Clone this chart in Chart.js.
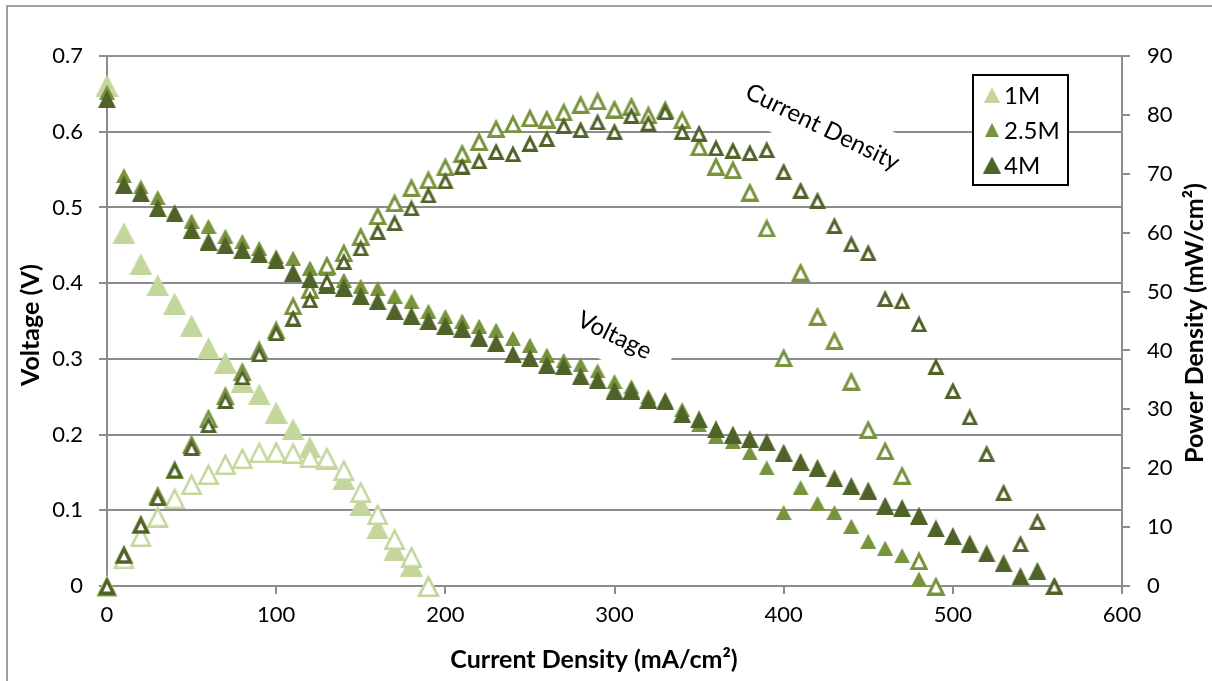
<!DOCTYPE html>
<html>
<head>
<meta charset="utf-8">
<script src="https://cdn.jsdelivr.net/npm/chart.js@4.4.1/dist/chart.umd.min.js"></script>
<style>
html,body{margin:0;padding:0;background:#fff;overflow:hidden}
#wrap{width:1212px;height:681px;position:relative}
</style>
</head>
<body>
<div id="wrap"><canvas id="c" width="1212" height="681"></canvas></div>
<script>
// ---------------- DATA ----------------
const seriesNames = ['1M', '2.5M', '4M'];

const currentDensity1M = [0,10,20,30,40,50,60,70,80,90,100,110,120,130,140,150,160,170,180,190];
const voltage1M = [0.661,0.466,0.425,0.397,0.373,0.344,0.314,0.295,0.270,0.253,0.229,0.207,0.183,0.168,0.141,0.107,0.076,0.047,0.027,0.0];
const power1M = [0,4.7,8.5,11.8,14.9,17.3,19.0,20.7,21.7,22.7,22.8,22.6,21.9,21.8,19.7,16.0,12.2,8.0,5.0,0];

const currentDensity2p5M = [0,10,20,30,40,50,60,70,80,90,100,110,120,130,140,150,160,170,180,190,200,210,220,230,240,250,260,270,280,290,300,310,320,330,340,350,360,370,380,390,400,410,420,430,440,450,460,470,480,490];
const voltage2p5M = [0.652,0.542,0.527,0.513,0.493,0.482,0.475,0.462,0.455,0.446,0.435,0.433,0.420,0.419,0.404,0.396,0.393,0.383,0.376,0.363,0.356,0.350,0.343,0.338,0.327,0.318,0.305,0.298,0.292,0.284,0.270,0.263,0.250,0.245,0.233,0.213,0.198,0.191,0.176,0.156,0.097,0.130,0.109,0.097,0.079,0.059,0.050,0.040,0.009,0.0];
const power2p5M = [0,5.4,10.5,15.4,19.7,24.1,28.5,32.3,36.4,40.1,43.5,47.6,50.4,54.5,56.6,59.4,62.9,65.1,67.7,69.0,71.2,73.5,75.5,77.7,78.5,79.5,79.3,80.5,81.8,82.4,81.0,81.5,80.0,80.9,79.2,74.6,71.3,70.7,66.9,60.8,38.8,53.3,45.8,41.7,34.8,26.6,23.0,18.8,4.3,0];

const currentDensity4M = [0,10,20,30,40,50,60,70,80,90,100,110,120,130,140,150,160,170,180,190,200,210,220,230,240,250,260,270,280,290,300,310,320,330,340,350,360,370,380,390,400,410,420,430,440,450,460,470,480,490,500,510,520,530,540,550,560];
const voltage4M = [0.643,0.530,0.519,0.499,0.492,0.470,0.455,0.450,0.444,0.438,0.430,0.414,0.405,0.398,0.394,0.383,0.376,0.363,0.357,0.350,0.344,0.340,0.328,0.321,0.306,0.301,0.292,0.290,0.277,0.272,0.258,0.258,0.246,0.244,0.227,0.220,0.207,0.200,0.194,0.190,0.176,0.164,0.156,0.142,0.132,0.126,0.106,0.103,0.093,0.076,0.066,0.056,0.043,0.030,0.013,0.020,0.0];
const power4M = [0,5.3,10.4,15.0,19.7,23.5,27.4,31.5,35.5,39.4,43.0,45.5,48.6,51.7,55.1,57.4,60.2,61.7,64.2,66.4,68.8,71.3,72.2,73.8,73.4,75.2,76.0,78.2,77.5,78.8,77.2,79.9,78.6,80.5,77.2,76.9,74.4,74.0,73.6,74.1,70.4,67.2,65.5,61.2,58.1,56.6,48.8,48.4,44.5,37.3,33.2,28.7,22.5,15.9,7.2,11.0,0];

const currentTicks = [0,100,200,300,400,500,600];
const voltageTicks = [0,0.1,0.2,0.3,0.4,0.5,0.6,0.7];
const powerTicks = [0,10,20,30,40,50,60,70,80,90];

const xTitle = 'Current Density (mA/cm\u00B2)';
const yTitle = 'Voltage (V)';
const y2Title = 'Power Density (mW/cm\u00B2)';
const curveLabels = [
  {text: 'Current Density', x: 423, y: 0.606, bx: 433, by: 0.595},
  {text: 'Voltage', x: 300, y: 0.331, bx: 301.5, by: 0.318}
];

// ---------------- STYLE ----------------
const COL1 = '#C3D69B', COL2 = '#77933C', COL3 = '#4F6228';
const FONT = 'Lato';
const GRID = '#8c8c8c';

function tri(w, h, fill, stroke, lw) {
  const c = document.createElement('canvas');
  c.width = w; c.height = h;
  const g = c.getContext('2d');
  const i = lw || 0;
  g.beginPath();
  g.moveTo(w / 2, i * 1.05);
  g.lineTo(w - i * 0.95, h - i / 2);
  g.lineTo(i * 0.95, h - i / 2);
  g.closePath();
  g.fillStyle = fill;
  g.fill();
  if (lw) {
    g.lineWidth = lw; g.strokeStyle = stroke; g.lineJoin = 'miter'; g.stroke();
  }
  return c;
}

const mk = {
  f1: tri(23, 22, COL1), h1: tri(23, 22, '#fff', COL1, 2.5),
  f2: tri(16, 15, COL2), h2: tri(20, 19, '#fff', COL2, 3),
  f3: tri(18, 18, COL3), h3: tri(18, 17, '#fff', COL3, 3)
};
const legendMarkers = [tri(16, 15, COL1), tri(14, 14, COL2), tri(18, 17, COL3)];

function pts(xs, ys) { return xs.map((x, i) => ({x: x, y: ys[i]})); }

function ds(label, xs, ys, img, axis) {
  return {label: label, data: pts(xs, ys), yAxisID: axis, pointStyle: img,
          pointRadius: 9, pointHoverRadius: 9, showLine: false, clip: false,
          backgroundColor: 'transparent', borderColor: 'transparent'};
}

const datasets = [
  ds('4M power', currentDensity4M, power4M, mk.h3, 'y1'),
  ds('4M', currentDensity4M, voltage4M, mk.f3, 'y'),
  ds('2.5M power', currentDensity2p5M, power2p5M, mk.h2, 'y1'),
  ds('2.5M', currentDensity2p5M, voltage2p5M, mk.f2, 'y'),
  ds('1M power', currentDensity1M, power1M, mk.h1, 'y1'),
  ds('1M', currentDensity1M, voltage1M, mk.f1, 'y')
];

const ANG = 26 * Math.PI / 180;

const decor = {
  id: 'decor',
  beforeDraw(chart) {
    const ctx = chart.ctx;
    ctx.save();
    ctx.fillStyle = '#fff';
    ctx.fillRect(0, 0, chart.width, chart.height);
    ctx.strokeStyle = '#a0a0a0';
    ctx.lineWidth = 2;
    ctx.strokeRect(7, 6, chart.width + 20, chart.height + 20);
    ctx.restore();
  },
  beforeDatasetsDraw(chart) {
    const ctx = chart.ctx, sx = chart.scales.x, sy = chart.scales.y;
    const dims = [[200, 54], [110, 40]];
    ctx.save();
    curveLabels.forEach((a, k) => {
      const cx = sx.getPixelForValue(a.bx), cy = sy.getPixelForValue(a.by);
      ctx.save();
      ctx.translate(cx, cy);
      ctx.rotate(ANG);
      ctx.fillStyle = '#fff';
      ctx.fillRect(-dims[k][0] / 2, -dims[k][1] / 2, dims[k][0], dims[k][1]);
      ctx.restore();
    });
    ctx.restore();
  },
  afterDatasetsDraw(chart) {
    const ctx = chart.ctx, sx = chart.scales.x, sy = chart.scales.y;
    ctx.save();
    ctx.fillStyle = '#000';
    ctx.font = '24px ' + FONT;
    ctx.textAlign = 'center';
    ctx.textBaseline = 'middle';
    curveLabels.forEach(a => {
      ctx.save();
      ctx.translate(sx.getPixelForValue(a.x), sy.getPixelForValue(a.y));
      ctx.rotate(ANG);
      ctx.fillText(a.text, 0, 0);
      ctx.restore();
    });
    ctx.restore();
  },
  afterDraw(chart) {
    const ctx = chart.ctx, ca = chart.chartArea;
    ctx.save();
    // axis titles
    ctx.fillStyle = '#000';
    ctx.font = 'bold 25px ' + FONT;
    ctx.textAlign = 'center';
    ctx.textBaseline = 'middle';
    const midY = (ca.top + ca.bottom) / 2;
    ctx.save(); ctx.translate(31, midY + 4); ctx.rotate(-Math.PI / 2); ctx.fillText(yTitle, 0, 0); ctx.restore();
    ctx.save(); ctx.translate(1195, midY + 2); ctx.rotate(-Math.PI / 2); ctx.fillText(y2Title, 0, 0); ctx.restore();
    ctx.fillText(xTitle, 594, 660);
    // legend
    const x0 = ca.right - 149, y0 = ca.top + 19, w = 95, h = 110;
    ctx.fillStyle = '#fff';
    ctx.fillRect(x0, y0, w, h);
    ctx.strokeStyle = '#000';
    ctx.lineWidth = 2;
    ctx.strokeRect(x0, y0, w, h);
    ctx.font = '24px ' + FONT;
    ctx.textAlign = 'left';
    ctx.fillStyle = '#000';
    seriesNames.forEach((n, i) => {
      const cy = y0 + 20 + i * 35;
      const img = legendMarkers[i];
      ctx.drawImage(img, x0 + 19 - img.width / 2, cy - img.height / 2);
      ctx.fillText(n, x0 + 31, cy + 1);
    });
    ctx.restore();
  }
};

function fixedTicks(arr) {
  return function (scale) { scale.ticks = arr.map(v => ({value: v})); };
}

const tickFont = {family: FONT, size: 22};

new Chart(document.getElementById('c'), {
  type: 'scatter',
  data: {datasets: datasets},
  options: {
    responsive: false,
    animation: false,
    devicePixelRatio: 1,
    layout: {padding: {top: 56, left: 0, right: 0, bottom: 0}},
    plugins: {legend: {display: false}, tooltip: {enabled: false}},
    scales: {
      x: {
        type: 'linear', position: 'bottom', min: 0, max: 600,
        afterBuildTicks: fixedTicks(currentTicks),
        afterFit: s => { s.height = 95; },
        ticks: {font: tickFont, color: '#000', padding: 8, maxRotation: 0},
        grid: {drawOnChartArea: false, drawTicks: true, tickLength: 8, color: GRID, lineWidth: 2},
        border: {display: true, color: GRID, width: 2}
      },
      y: {
        type: 'linear', position: 'left', min: 0, max: 0.7,
        afterBuildTicks: fixedTicks(voltageTicks),
        afterFit: s => { s.width = 107; },
        ticks: {font: tickFont, color: '#000', padding: 16,
                callback: v => String(Math.round(v * 10) / 10)},
        grid: {color: GRID, lineWidth: 2, tickLength: 8},
        border: {display: true, color: GRID, width: 2}
      },
      y1: {
        type: 'linear', position: 'right', min: 0, max: 90,
        afterBuildTicks: fixedTicks(powerTicks),
        afterFit: s => { s.width = 90; },
        ticks: {font: tickFont, color: '#000', padding: 17},
        grid: {drawOnChartArea: false, drawTicks: true, tickLength: 8, color: GRID, lineWidth: 2},
        border: {display: true, color: GRID, width: 2}
      }
    }
  },
  plugins: [decor]
});
</script>
</body>
</html>
